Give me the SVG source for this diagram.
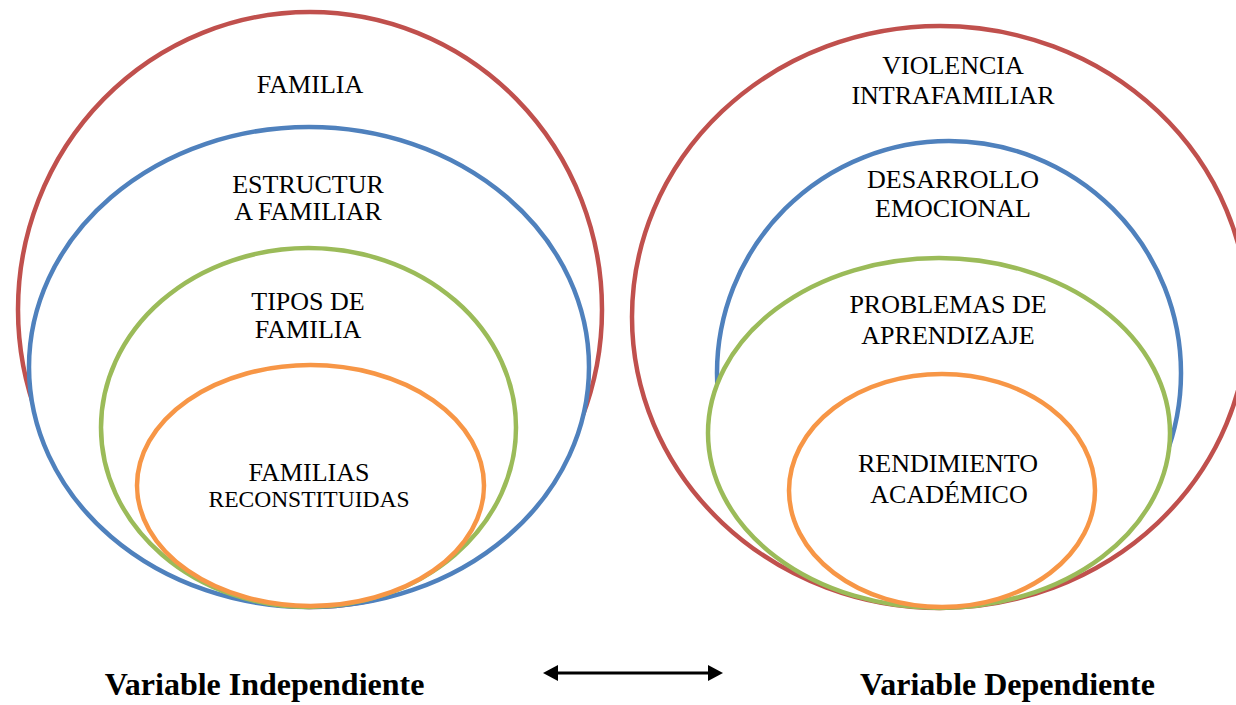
<svg xmlns="http://www.w3.org/2000/svg" width="1236" height="705" viewBox="0 0 1236 705">
  <style>
    .ring { fill: #fff; stroke-width: 4.5; }
    .red { stroke: #C0504D; }
    .blue { stroke: #4F81BD; }
    .green { stroke: #9BBB59; }
    .orange { stroke: #F79646; }
    .lbl { font-family: "Liberation Serif", "Times New Roman", serif; font-size: 26px; fill: #000; text-anchor: middle; }
    .small { font-size: 23.5px; }
    .var { font-family: "Liberation Serif", "Times New Roman", serif; font-size: 32px; font-weight: bold; fill: #000; text-anchor: middle; }
    .conn { stroke: #000; stroke-width: 3; fill: none; }
  </style>
  <defs>
    <marker id="head" markerUnits="userSpaceOnUse" markerWidth="16" markerHeight="16" refX="1" refY="8" orient="auto-start-reverse" viewBox="0 0 16 16">
      <path d="M0,0 L15,8 L0,16 z" fill="#000"/>
    </marker>
  </defs>
  <rect width="1236" height="705" fill="#fff"/>

  <!-- Left: independent variable -->
  <g id="familia">
    <ellipse class="ring red" cx="310" cy="309.5" rx="292" ry="297.5"/>
    <text class="lbl" x="310" y="93">FAMILIA</text>
  </g>
  <g id="estructura-familiar">
    <ellipse class="ring blue" cx="309" cy="367" rx="280" ry="240"/>
    <text class="lbl" x="308" y="193">ESTRUCTUR</text>
    <text class="lbl" x="308" y="220">A FAMILIAR</text>
  </g>
  <g id="tipos-de-familia">
    <ellipse class="ring green" cx="308.5" cy="427.5" rx="207.5" ry="179.5"/>
    <text class="lbl" x="308" y="310">TIPOS DE</text>
    <text class="lbl" x="308" y="338">FAMILIA</text>
  </g>
  <g id="familias-reconstituidas">
    <ellipse class="ring orange" cx="310.5" cy="485.5" rx="173.5" ry="120.5"/>
    <text class="lbl" x="309" y="481">FAMILIAS</text>
    <text class="lbl small" x="309" y="507">RECONSTITUIDAS</text>
  </g>

  <!-- Right: dependent variable -->
  <g id="violencia-intrafamiliar">
    <ellipse class="ring red" cx="940" cy="317" rx="308" ry="291"/>
    <text class="lbl" x="953" y="74">VIOLENCIA</text>
    <text class="lbl" x="953" y="104">INTRAFAMILIAR</text>
  </g>
  <g id="desarrollo-emocional">
    <ellipse class="ring blue" cx="949" cy="373" rx="232" ry="232"/>
    <text class="lbl" x="953" y="188">DESARROLLO</text>
    <text class="lbl" x="953" y="217">EMOCIONAL</text>
  </g>
  <g id="problemas-de-aprendizaje">
    <ellipse class="ring green" cx="939" cy="433" rx="231" ry="175"/>
    <text class="lbl" x="948" y="313">PROBLEMAS DE</text>
    <text class="lbl" x="948" y="344">APRENDIZAJE</text>
  </g>
  <g id="rendimiento-academico">
    <ellipse class="ring orange" cx="942" cy="490.5" rx="153" ry="116.5"/>
    <text class="lbl" x="948" y="472">RENDIMIENTO</text>
    <text class="lbl" x="949" y="503">ACADÉMICO</text>
  </g>

  <g id="label-independiente">
    <text class="var" x="264.5" y="695">Variable Independiente</text>
  </g>
  <g id="label-dependiente">
    <text class="var" x="1007.5" y="695">Variable Dependiente</text>
  </g>

  <g id="connectors">
    <line class="conn" x1="557" y1="673" x2="709" y2="673" marker-start="url(#head)" marker-end="url(#head)"/>
  </g>
</svg>
